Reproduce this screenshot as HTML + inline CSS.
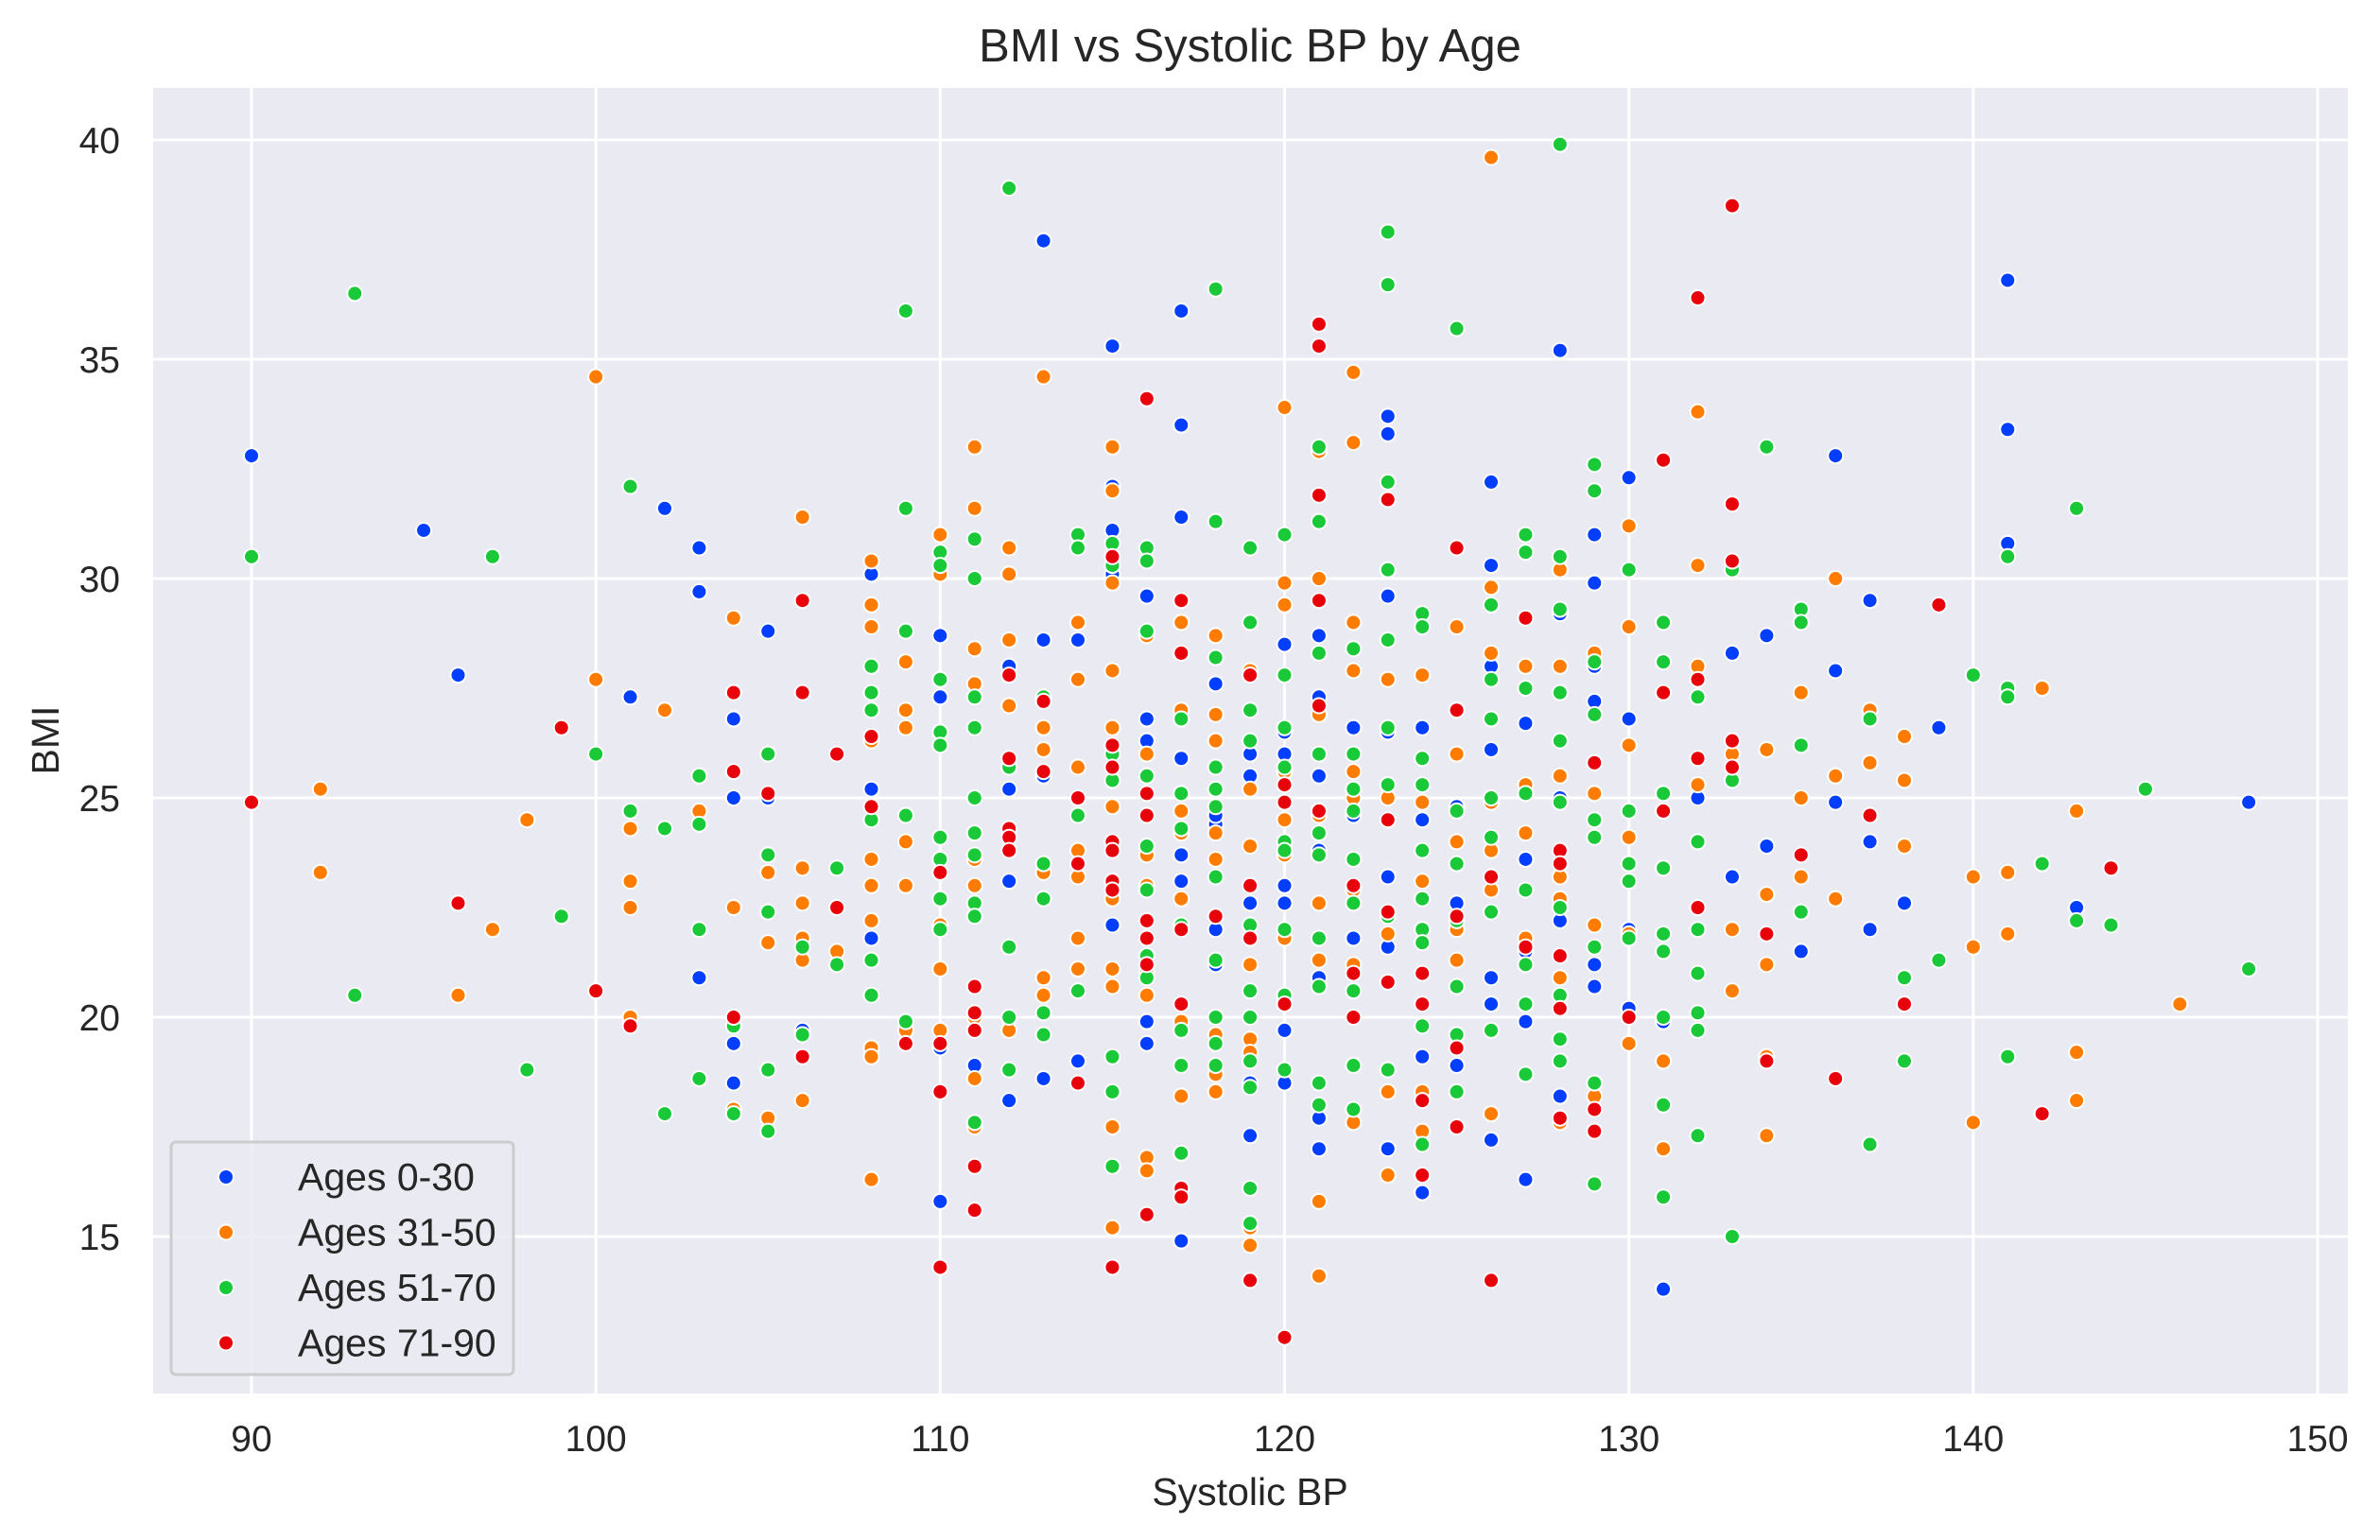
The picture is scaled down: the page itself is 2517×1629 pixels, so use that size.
<!DOCTYPE html>
<html><head><meta charset="utf-8"><style>
html,body{margin:0;padding:0;background:#fff}
svg{display:block;font-family:"Liberation Sans",sans-serif}
</style></head><body>
<svg id="chart" width="2517" height="1629" viewBox="0 0 2517 1629" xmlns="http://www.w3.org/2000/svg">
<rect x="162" y="93" width="2321" height="1381" fill="#eaeaf2"/>
<g id="grid"></g>
<g id="ticks" fill="#262626" font-size="39"></g>
<g id="marks"></g>
<text x="1322" y="65" text-anchor="middle" font-size="49" fill="#262626">BMI vs Systolic BP by Age</text>
<text x="1322" y="1592" text-anchor="middle" font-size="41" fill="#262626">Systolic BP</text>
<text transform="translate(62,783) rotate(-90)" text-anchor="middle" font-size="41" fill="#262626">BMI</text>
<g id="legend"></g>
</svg>
<script>
const NS="http://www.w3.org/2000/svg";
const xTicks=[90,100,110,120,130,140,150];
const yTicks=[15,20,25,30,35,40];
const seriesNames=["Ages 0-30","Ages 31-50","Ages 51-70","Ages 71-90"];
const seriesColors=["#023eff","#ff7c00","#1ac938","#e8000b"];
const blueBP=[90,95,96,102,101,103,103,103,104,104,104,104,105,105,106,108,108,108,110,110,110,110,111,112,112,112,112,113,113,113,113,114,114,115,115,115,115,115,116,116,116,116,116,117,117,117,117,117,117,117,118,118,118,118,118,119,119,119,119,119,120,120,120,120,120,120,120,120,120,121,121,121,121,121,121,121,122,122,122,122,123,123,123,123,123,123,123,124,124,124,124,125,125,125,126,126,126,126,126,126,126,127,127,127,127,127,127,128,128,128,128,128,129,129,129,129,129,129,130,130,130,130,131,131,132,133,133,134,134,135,136,136,136,136,137,137,137,138,139,141,141,141,143,148];
const blueBMI=[32.8,31.1,27.8,31.6,27.3,30.7,29.7,20.9,26.8,25.0,19.4,18.5,28.8,25.0,19.7,30.1,25.2,21.8,28.7,27.3,19.3,15.8,18.9,28.0,25.2,23.1,18.1,37.7,28.6,25.5,18.6,28.6,19.0,35.3,32.1,31.1,30.1,22.1,29.6,26.8,26.3,19.9,19.4,36.1,33.5,31.4,25.9,23.7,23.1,14.9,27.6,24.4,24.6,22.0,21.2,26.0,25.5,22.6,18.5,17.3,31.0,28.5,26.5,26.0,24.0,23.0,22.6,19.7,18.5,28.7,27.3,25.5,23.8,20.9,17.7,17.0,26.6,24.6,21.8,18.9,33.7,33.3,29.6,26.5,23.2,21.6,17.0,26.6,24.5,19.1,16.0,24.8,22.6,18.9,32.2,30.3,28.0,26.1,20.9,20.3,17.2,28.0,26.7,23.6,21.5,19.9,16.3,35.2,29.2,25.0,22.2,18.2,31.0,29.9,28.0,27.2,21.2,20.7,32.3,26.8,22.0,20.2,19.9,13.8,25.0,28.3,23.2,28.7,23.9,21.5,32.8,27.9,25.5,24.9,29.5,24.0,22.0,22.6,26.6,36.8,33.4,30.8,22.5,24.9];
const orangeBP=[92,92,96,97,98,100,100,101,101,101,101,102,103,104,104,104,105,105,105,106,106,106,106,106,106,107,108,108,108,108,108,108,108,108,108,108,109,109,109,109,109,109,109,110,110,110,110,110,111,111,111,111,111,111,111,111,111,112,112,112,112,112,113,113,113,113,113,113,114,114,114,114,114,114,114,115,115,115,115,115,115,115,115,115,115,115,115,116,116,116,116,116,116,116,116,117,117,117,117,117,117,117,118,118,118,118,118,118,118,118,118,118,119,119,119,119,119,119,119,119,119,120,120,120,120,120,120,120,121,121,121,121,121,121,121,121,122,122,122,122,122,122,122,122,122,123,123,123,123,123,124,124,124,124,124,125,125,125,125,125,126,126,126,126,126,126,126,126,127,127,127,127,127,128,128,128,128,128,128,128,128,129,129,129,129,130,130,130,130,130,130,131,131,132,132,132,132,133,133,133,134,134,134,134,134,135,135,135,136,136,136,137,137,138,138,138,140,140,140,141,141,142,143,143,143,146];
const orangeBMI=[25.2,23.3,20.5,22.0,24.5,34.6,27.7,24.3,23.1,22.5,20.0,27.0,24.7,29.1,22.5,17.9,23.3,21.7,17.7,31.4,23.4,22.6,21.8,21.3,18.1,21.5,30.4,29.4,28.9,26.3,23.6,23.0,22.2,19.3,19.1,16.3,28.1,27.0,26.6,24.6,24.0,23.0,19.7,31.0,30.1,22.1,21.1,19.7,33.0,31.6,28.4,27.6,23.6,23.0,20.0,17.5,18.6,30.7,30.1,28.6,27.1,19.7,34.6,26.1,26.6,23.3,20.9,20.5,29.0,27.7,25.7,23.8,23.2,21.8,21.1,33.0,32.0,29.9,27.9,26.6,24.8,24.0,22.7,21.1,20.7,17.5,15.2,28.7,26.0,23.7,23.0,21.0,20.5,16.8,16.5,29.0,27.0,24.7,24.2,22.7,19.9,18.2,28.7,26.9,26.3,25.7,24.2,23.6,20.0,19.6,18.7,18.3,29.0,27.9,25.2,23.9,21.2,19.5,19.2,15.2,14.8,33.9,29.9,29.4,25.6,24.5,23.7,21.8,32.9,30.0,26.9,24.6,22.6,21.3,15.8,14.1,34.7,33.1,29.0,27.9,25.6,25.0,22.9,21.2,17.6,27.7,25.0,21.9,18.3,16.4,27.8,24.9,23.1,18.3,17.4,28.9,26.0,24.0,22.0,21.3,39.6,29.8,28.3,25.0,24.9,23.8,22.9,17.8,30.6,28.0,25.3,24.2,21.8,30.2,28.0,25.5,23.8,23.2,22.7,20.9,17.6,28.3,25.1,22.1,18.2,31.2,28.9,26.2,24.1,21.9,19.4,19.0,17.0,33.8,30.3,28.0,25.3,26.0,22.0,20.6,26.1,22.8,21.2,19.1,17.3,27.4,25.0,23.2,30.0,25.5,22.7,27.0,25.8,26.4,25.4,23.9,23.2,21.6,17.6,23.3,21.9,27.5,24.7,19.2,18.1,20.3];
const greenBP=[90,93,93,97,98,99,100,101,101,102,102,103,103,103,103,104,104,105,105,105,105,105,106,106,107,107,108,108,108,108,108,108,109,109,109,109,109,110,110,110,110,110,110,110,110,110,111,111,111,111,111,111,111,111,111,111,112,112,112,112,112,113,113,113,113,113,114,114,114,114,115,115,115,115,115,115,115,116,116,116,116,116,116,116,116,117,117,117,117,117,117,117,117,118,118,118,118,118,118,118,118,118,118,118,119,119,119,119,119,119,119,119,119,119,119,120,120,120,120,120,120,120,120,120,121,121,121,121,121,121,121,121,121,121,122,122,122,122,122,122,122,122,122,123,123,123,123,123,123,123,123,123,123,124,124,124,124,124,124,124,124,124,124,125,125,125,125,125,125,125,125,126,126,126,126,126,126,126,127,127,127,127,127,127,127,127,128,128,128,128,128,128,128,128,128,128,129,129,129,129,129,129,129,129,129,130,130,130,130,130,131,131,131,131,131,131,131,131,131,132,132,132,132,132,132,132,133,133,133,134,135,135,135,135,137,137,138,138,139,140,141,141,141,141,142,143,143,144,145,148];
const greenBMI=[30.5,36.5,20.5,30.5,18.8,22.3,26.0,32.1,24.7,24.3,17.8,25.5,24.4,22.0,18.6,19.8,17.8,26.0,23.7,22.4,18.8,17.4,21.6,19.6,23.4,21.2,28.0,27.4,27.0,24.5,21.3,20.5,36.1,31.6,28.8,24.6,19.9,30.6,30.3,27.7,26.5,26.2,24.1,23.6,22.7,22.0,30.9,30.0,27.3,26.6,25.0,24.2,23.7,22.6,22.3,17.6,38.9,25.7,21.6,20.0,18.8,27.3,23.5,22.7,20.1,19.6,31.0,30.7,24.6,20.6,30.8,30.3,26.0,25.4,19.1,18.3,16.6,30.7,30.4,28.8,25.5,23.9,22.9,21.4,20.9,26.8,25.1,24.3,22.1,19.7,18.9,16.9,16.1,36.6,31.3,28.2,25.7,25.2,24.8,23.2,21.3,20.0,19.4,18.9,30.7,29.0,27.0,26.3,22.1,20.6,20.0,19.0,18.4,16.1,15.3,31.0,27.8,26.6,25.7,24.0,23.8,22.0,20.5,18.8,33.0,31.3,28.3,26.0,24.2,23.7,21.8,20.7,18.5,18.0,28.4,26.0,25.2,24.7,23.6,22.6,20.6,18.9,17.9,37.9,36.7,32.2,30.2,28.6,26.6,25.3,22.3,20.8,18.8,29.2,28.9,25.9,25.3,23.8,22.7,22.0,21.7,19.8,17.1,35.7,27.0,24.7,23.5,22.2,20.7,19.6,18.3,29.4,27.7,26.8,25.0,24.1,22.4,19.7,31.0,30.6,27.5,25.1,22.9,21.2,20.3,18.7,39.9,30.5,29.3,27.4,26.3,24.9,22.5,20.5,19.5,19.0,32.6,32.0,28.1,26.9,24.5,24.1,21.6,18.5,16.2,30.2,24.7,23.5,23.1,21.8,29.0,28.1,25.1,23.4,21.9,21.5,20.0,18.0,15.9,27.3,24.0,22.0,21.0,20.1,19.7,17.3,30.2,25.4,15.0,33.0,29.3,29.0,26.2,22.4,26.8,17.1,20.9,19.0,21.3,27.8,27.5,27.3,30.5,19.1,23.5,31.6,22.2,22.1,25.2,21.1];
const redBP=[90,96,99,100,101,104,104,104,105,106,106,106,107,107,108,108,109,110,110,110,110,111,111,111,111,111,112,112,112,112,112,113,113,114,114,114,115,115,115,115,115,115,115,115,116,116,116,116,116,116,116,117,117,117,117,117,117,118,119,119,119,119,120,120,120,120,121,121,121,121,121,121,122,122,122,123,123,123,123,124,124,124,124,125,125,125,125,125,126,126,127,127,128,128,128,128,128,129,129,129,130,131,131,131,132,132,132,132,133,133,133,133,133,134,134,135,136,137,138,139,142,144];
const redBMI=[24.9,22.6,26.6,20.6,19.8,27.4,25.6,20.0,25.1,29.5,27.4,19.1,26.0,22.5,26.4,24.8,19.4,23.3,19.4,18.3,14.3,20.7,20.1,19.7,16.6,15.6,27.8,25.9,24.3,24.1,23.8,27.2,25.6,25.0,23.5,18.5,30.5,26.2,25.7,24.0,23.8,23.1,22.9,14.3,34.1,25.1,24.6,22.2,21.8,21.2,15.5,29.5,28.3,22.0,20.3,16.1,15.9,22.3,27.8,23.0,21.8,14.0,25.3,24.9,20.3,12.7,35.8,35.3,31.9,29.5,27.1,24.7,23.0,21.0,20.0,31.8,24.5,22.4,20.8,21.0,20.3,18.1,16.4,30.7,27.0,22.3,19.3,17.5,23.2,14.0,29.1,21.6,23.8,23.5,21.4,20.2,17.7,25.8,17.9,17.4,20.0,32.7,27.4,24.7,36.4,27.7,25.9,22.5,38.5,31.7,30.4,26.3,25.7,21.9,19.0,23.7,18.6,24.6,20.3,29.4,17.8,23.4];

const X0=162,X1=2483,Y0=93,Y1=1474;
function xs(v){return 266+(v-90)*(2451-266)/60;}
function ys(v){return 1308-(v-15)*(1308-148)/25;}

const grid=document.getElementById('grid');
const ticks=document.getElementById('ticks');
xTicks.forEach(t=>{
  const l=document.createElementNS(NS,'line');
  
  
  l.setAttribute('x1',xs(t));l.setAttribute('x2',xs(t));l.setAttribute('y1',Y0);l.setAttribute('y2',Y1);
  l.setAttribute('stroke','#fff');l.setAttribute('stroke-width','3');
  grid.appendChild(l);
  const tx=document.createElementNS(NS,'text');
  
  
  tx.setAttribute('x',xs(t));tx.setAttribute('y',1535);tx.setAttribute('text-anchor','middle');
  tx.textContent=t;ticks.appendChild(tx);
});
yTicks.forEach(t=>{
  const l=document.createElementNS(NS,'line');
  
  
  l.setAttribute('x1',X0);l.setAttribute('x2',X1);l.setAttribute('y1',ys(t));l.setAttribute('y2',ys(t));
  l.setAttribute('stroke','#fff');l.setAttribute('stroke-width','3');
  grid.appendChild(l);
  const tx=document.createElementNS(NS,'text');
  
  
  tx.setAttribute('x',127);tx.setAttribute('y',ys(t)+14);tx.setAttribute('text-anchor','end');
  tx.textContent=t;ticks.appendChild(tx);
});

const marks=document.getElementById('marks');
const sBP=[blueBP,orangeBP,greenBP,redBP];
const sBMI=[blueBMI,orangeBMI,greenBMI,redBMI];
sBP.forEach((bp,si)=>{
  const g=document.createElementNS(NS,'g');
  
  
  bp.forEach((v,i)=>{
    const c=document.createElementNS(NS,'circle');
    
    
    c.setAttribute('cx',xs(v));c.setAttribute('cy',ys(sBMI[si][i]));c.setAttribute('r',8);
    c.setAttribute('fill',seriesColors[si]);c.setAttribute('stroke','#fff');c.setAttribute('stroke-width','2');
    g.appendChild(c);
  });
  marks.appendChild(g);
});

const lg=document.getElementById('legend');
const box=document.createElementNS(NS,'rect');


box.setAttribute('x',181);box.setAttribute('y',1208);box.setAttribute('width',362);box.setAttribute('height',246);
box.setAttribute('rx',5);box.setAttribute('fill','#eaeaf2');box.setAttribute('fill-opacity','0.85');box.setAttribute('stroke','#cccccc');box.setAttribute('stroke-width','3');
lg.appendChild(box);
seriesNames.forEach((n,i)=>{
  const y=1245+i*58.5;
  const c=document.createElementNS(NS,'circle');
  
  
  c.setAttribute('cx',239);c.setAttribute('cy',y);c.setAttribute('r',8);
  c.setAttribute('fill',seriesColors[i]);c.setAttribute('stroke','#fff');c.setAttribute('stroke-width','2');
  lg.appendChild(c);
  const t=document.createElementNS(NS,'text');
  
  
  t.setAttribute('x',315);t.setAttribute('y',y+14);t.setAttribute('font-size','41');t.setAttribute('fill','#262626');
  t.textContent=n;lg.appendChild(t);
});
</script>
</body></html>
